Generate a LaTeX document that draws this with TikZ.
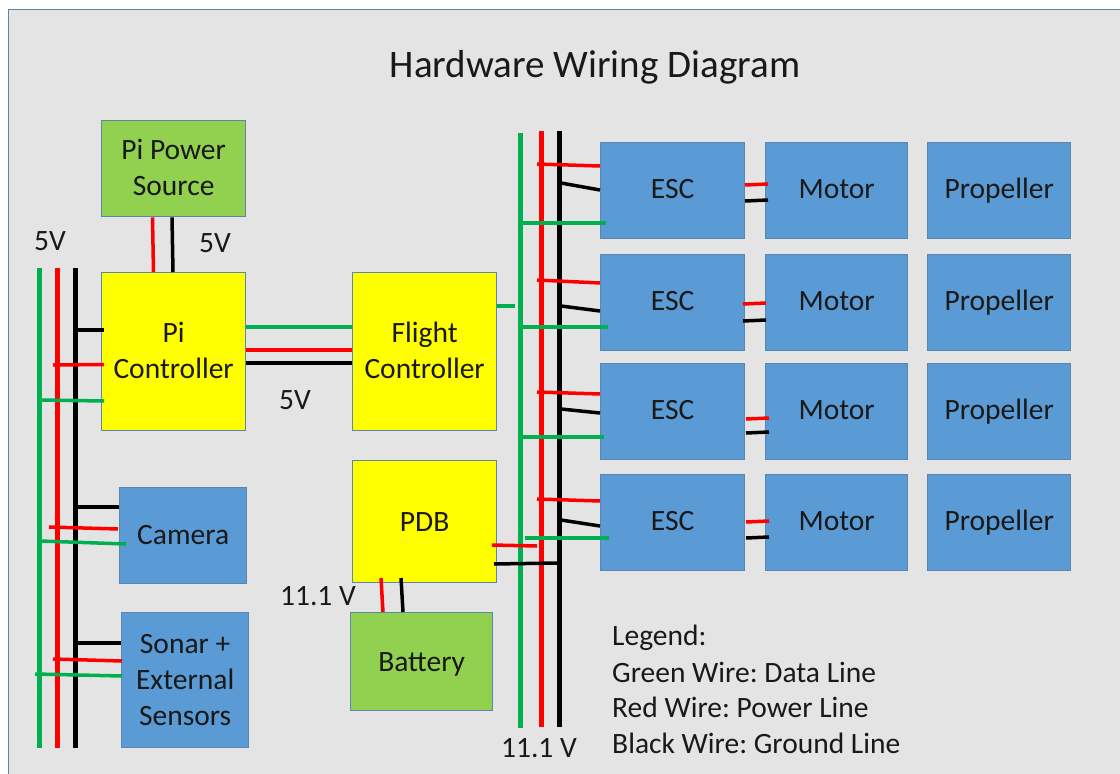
\documentclass[tikz,border=0pt]{standalone}
\usepackage{fontspec}
\setmainfont{Carlito}
\definecolor{panelgray}{HTML}{E4E4E4}
\definecolor{edgeblue}{HTML}{5A86B0}
\definecolor{boxblue}{HTML}{5B9BD5}
\definecolor{boxgreen}{HTML}{92D050}
\definecolor{boxyellow}{HTML}{FFFF00}
\definecolor{wirered}{HTML}{FF0000}
\definecolor{wiregreen}{HTML}{00B050}
\tikzset{
	box/.style={draw=edgeblue, line width=1.3pt, inner sep=0pt, anchor=north west, align=center, font=\fontsize{29.5}{36}\selectfont, text=black!90},
	bluebox/.style={box, fill=boxblue},
	greenbox/.style={box, fill=boxgreen},
	yellowbox/.style={box, fill=boxyellow},
	oneline/.style={text height=22pt, text depth=6pt},
	label/.style={font=\fontsize{29.5}{36}\selectfont\frenchspacing, text=black!90, inner sep=0pt},
	gwire/.style={wiregreen, line width=3.5pt},
	rwire/.style={wirered, line width=3.5pt},
	kwire/.style={black, line width=3.5pt},
	gbus/.style={wiregreen, line width=5pt},
	rbus/.style={wirered, line width=5pt},
	kbus/.style={black, line width=5pt},
}
\begin{document}
\begin{tikzpicture}[x=1pt, y=-1pt]
		% frame
			\useasboundingbox (0,0) rectangle (1120,774);
			\fill[white] (0,0) rectangle (1120,774);
			\fill[panelgray, draw=edgeblue, line width=1.6pt] (8.5,9.5) rectangle (1130,780);
			\node[font=\fontsize{39}{44}\selectfont, text=black!90, inner sep=0pt] (title) at (595,67) {Hardware Wiring Diagram};

		% boxes
			\node[greenbox, text depth=2pt, minimum width=144pt, minimum height=96pt] (power) at (101,120) {Pi Power\\Source};
			\node[yellowbox, text depth=2pt, minimum width=144pt, minimum height=158pt] (pi) at (101,272) {Pi\\Controller};
			\node[yellowbox, text depth=2pt, minimum width=144pt, minimum height=158pt] (flight) at (352,272) {Flight\\Controller};
			\node[yellowbox, oneline, text depth=2pt, minimum width=144pt, minimum height=122pt] (pdb) at (352,460) {PDB};
			\node[greenbox, oneline, text depth=3pt, minimum width=142pt, minimum height=98pt] (battery) at (350,612) {Battery};
			\node[bluebox, oneline, text depth=5pt, minimum width=127pt, minimum height=96pt] (camera) at (119,487) {Camera};
			\node[bluebox, minimum width=127pt, minimum height=135pt] (sonar) at (121,612) {Sonar +\\External\\Sensors};
			\foreach \n/\y in {1/142, 2/254, 3/363, 4/474} {
				\node[bluebox, oneline, minimum width=144pt, minimum height=96pt] (esc\n) at (600,\y) {ESC};
				\node[bluebox, oneline, minimum width=142pt, minimum height=96pt] (motor\n) at (765,\y) {Motor};
				\node[bluebox, oneline, minimum width=143pt, minimum height=96pt] (prop\n) at (927,\y) {Propeller};
			}

		% bus ends
			\coordinate (lgtop) at (39,268);
			\coordinate (lgbot) at (39,748);
			\coordinate (lrtop) at (57,268);
			\coordinate (lrbot) at (57,748);
			\coordinate (lktop) at (75,268);
			\coordinate (lkbot) at (75,748);
			\coordinate (rgtop) at (520,133);
			\coordinate (rgbot) at (520,728);
			\coordinate (rrtop) at (541,131);
			\coordinate (rrbot) at (541,727);
			\coordinate (rktop) at (559,131);
			\coordinate (rkbot) at (559,727);
			\draw[gbus] (lgtop) -- (lgbot);
			\draw[rbus] (lrtop) -- (lrbot);
			\draw[kbus] (lktop) -- (lkbot);
			\draw[gbus] (rgtop) -- (rgbot);
			\draw[rbus] (rrtop) -- (rrbot);
			\draw[kbus] (rktop) -- (rkbot);

		% pi power and pi
			\draw[rwire] (power.south -| 152.5,0) -- (pi.north -| 153.5,0);
			\draw[kwire] (power.south -| 172,0) -- (pi.north -| 173,0);
			\draw[gwire] (pi.east |- 0,327) -- (flight.west |- 0,327);
			\draw[rwire] (pi.east |- 0,350) -- (flight.west |- 0,350);
			\draw[kwire] (pi.east |- 0,363) -- (flight.west |- 0,363);

		% left bus to its boxes
			\draw[kwire] (75,330) -- (104,330);
			\draw[rwire] (53,365) -- (104,364.5);
			\draw[gwire] (39,400) -- (104,401);
			\draw[kwire] (75,507) -- (camera.west |- 0,507);
			\draw[rwire] (49,527) -- (118,529);
			\draw[gwire] (40,541) -- (126,544);
			\draw[kwire] (75,643) -- (sonar.west |- 0,643);
			\draw[rwire] (53,659) -- (122,661);
			\draw[gwire] (35,674) -- (122,676);

		% right bus to the esc and motor rows
			\foreach \n/\ra/\rb/\ka/\kb/\g/\gx/\gs/\mra/\mka/\mx in {
				1/164/166/183/190/223/606/520/185/201/745,
				2/280/283/306/311/327/608/520/304/321/743,
				3/392/394/409/413/437/604/520/419/433/746,
				4/499/501/520/526/538/609/525/522/538/746} {
				\draw[rwire] (537,\ra) -- (esc\n.west |- 0,\rb);
				\draw[kwire] (561,\ka) -- (esc\n.west |- 0,\kb);
				\draw[gwire] (\gs,\g) -- (\gx,\g);
				\draw[rwire] (\mx,\mra) -- ++(23,-1);
				\draw[kwire] (\mx,\mka) -- ++(23,-1);
			}
			\draw[gwire] (flight.east |- 0,306) -- (515,306);

		% pdb and battery
			\draw[rwire] (492,545) -- (537,546);
			\draw[kwire] (494,564) -- (557,563);
			\draw[rwire] (381,578) -- (383,612);
			\draw[kwire] (401,578) -- (403,612);

		% voltages and legend
			\node[label] (vleft) at (50,241) {5V};
			\node[label] (vpower) at (215,243) {5V};
			\node[label] (vpi) at (295,400) {5V};
			\node[label] (vbat) at (318,596) {11.1 V};
			\node[label] (vright) at (539,748) {11.1 V};
			\node[label, anchor=west] (legend) at (612,638) {Legend:};
			\node[label, anchor=west] (lgreen) at (612,672) {Green Wire: Data Line};
			\node[label, anchor=west] (lred) at (612,707) {Red Wire: Power Line};
			\node[label, anchor=west] (lblack) at (612,743) {Black Wire: Ground Line};
	\end{tikzpicture}
\end{document}
